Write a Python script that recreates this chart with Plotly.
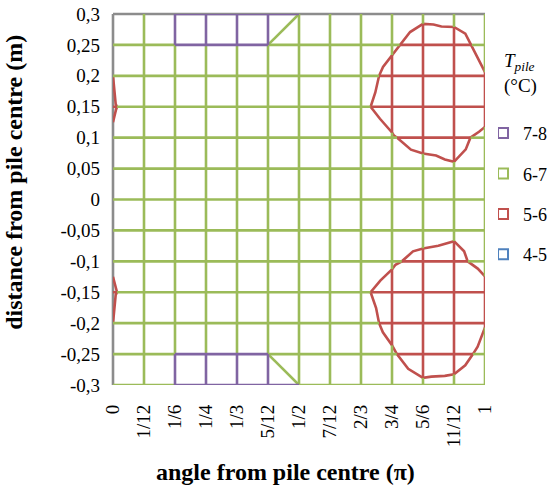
import plotly.graph_objects as go

# Angle categories (fractions of pi) and distance rows of the measurement grid
angle_labels = ["0", "1/12", "1/6", "1/4", "1/3", "5/12", "1/2",
                "7/12", "2/3", "3/4", "5/6", "11/12", "1"]
angle_pi = [0, 1/12, 1/6, 1/4, 1/3, 5/12, 1/2, 7/12, 2/3, 3/4, 5/6, 11/12, 1]
distance_m = [0.3, 0.25, 0.2, 0.15, 0.1, 0.05, 0, -0.05, -0.1, -0.15, -0.2, -0.25, -0.3]
distance_labels = ["0,3", "0,25", "0,2", "0,15", "0,1", "0,05", "0",
                   "-0,05", "-0,1", "-0,15", "-0,2", "-0,25", "-0,3"]

# Pile temperature (deg C); rows follow distance_m, columns follow angle_pi
t_pile = [
    [6.6, 6.8, 7.0, 7.2, 7.3, 7.2, 7.0, 6.7, 6.5, 6.3, 6.14, 6.29, 6.4],
    [6.5, 6.7, 7.0, 7.0, 7.0, 7.0, 6.8, 6.6, 6.4, 6.10, 5.7, 5.6, 6.3],
    [6.0, 6.4, 6.6, 6.7, 6.7, 6.7, 6.6, 6.5, 6.28, 5.8, 5.4, 5.3, 5.96],
    [5.97, 6.2, 6.4, 6.5, 6.5, 6.5, 6.5, 6.4, 6.09, 5.8, 5.3, 5.3, 5.7],
    [6.03, 6.3, 6.4, 6.5, 6.5, 6.5, 6.5, 6.4, 6.3, 6.04, 5.8, 5.82, 6.16],
    [6.2, 6.3, 6.4, 6.5, 6.5, 6.5, 6.5, 6.4, 6.3, 6.2, 6.19, 6.05, 6.2],
    [6.3, 6.3, 6.4, 6.5, 6.5, 6.5, 6.5, 6.4, 6.3, 6.3, 6.3, 6.3, 6.3],
    [6.2, 6.3, 6.4, 6.5, 6.5, 6.5, 6.5, 6.4, 6.3, 6.2, 6.21, 6.08, 6.2],
    [6.03, 6.3, 6.4, 6.5, 6.5, 6.5, 6.5, 6.4, 6.3, 6.07, 5.85, 5.85, 6.19],
    [5.97, 6.2, 6.4, 6.5, 6.5, 6.5, 6.5, 6.4, 6.09, 5.8, 5.3, 5.3, 5.8],
    [6.0, 6.4, 6.6, 6.7, 6.7, 6.7, 6.6, 6.5, 6.28, 5.8, 5.3, 5.3, 5.97],
    [6.5, 6.7, 7.0, 7.0, 7.0, 7.0, 6.8, 6.6, 6.4, 6.08, 5.57, 5.7, 6.19],
    [6.6, 6.8, 7.0, 7.2, 7.3, 7.2, 7.0, 6.7, 6.5, 6.3, 6.13, 6.16, 6.4],
]

band_edges = [4, 5, 6, 7, 8]
band_labels = ["4-5", "5-6", "6-7", "7-8"]
band_colors = ["#4F81BD", "#C0504D", "#9BBB59", "#8064A2"]

SERIF = "Liberation Serif"
LINE_W = 2.6
WALL_COLOR = "#8C8C8C"

n_rows, n_cols = len(distance_m), len(angle_pi)


def band_of(z):
    for j in range(len(band_labels)):
        if z < band_edges[j + 1]:
            return j
    return len(band_labels) - 1


def lerp(p, q, t):
    return (p[0] + (q[0] - p[0]) * t, p[1] + (q[1] - p[1]) * t)


def edge_pieces(p0, p1, z0, z1):
    """Split one mesh edge where it crosses band boundaries."""
    cuts = [0.0, 1.0]
    for lev in band_edges:
        if min(z0, z1) < lev < max(z0, z1):
            cuts.append((lev - z0) / (z1 - z0))
    cuts.sort()
    out = []
    for a, b in zip(cuts[:-1], cuts[1:]):
        band = band_of(z0 + (z1 - z0) * (a + b) / 2)
        out.append((lerp(p0, p1, a), lerp(p0, p1, b), band))
    return out


def node(i, k):
    return (angle_pi[i], distance_m[k])


# ---- wireframe mesh lines, coloured by band ----
grid_paths = {b: [] for b in range(len(band_labels))}
warmest = len(band_labels) - 1


def add_line(nodes, on_wall):
    runs = []
    for (i0, k0), (i1, k1) in zip(nodes[:-1], nodes[1:]):
        for p, q, band in edge_pieces(node(i0, k0), node(i1, k1),
                                      t_pile[k0][i0], t_pile[k1][i1]):
            if on_wall and band != warmest:
                continue
            if runs and runs[-1][0] == band and runs[-1][1][-1] == p:
                runs[-1][1].append(q)
            else:
                runs.append([band, [p, q]])
    for band, pts in runs:
        grid_paths[band].append(pts)


for k in range(n_rows):
    add_line([(i, k) for i in range(n_cols)], on_wall=(k == 0))
for i in range(n_cols):
    add_line([(i, k) for k in range(n_rows)], on_wall=(i == 0))

# ---- contour lines at band boundaries (cells split into four triangles) ----
contour_segs = {b: [] for b in range(len(band_labels))}


def on_mesh_line(p, q):
    eps = 1e-9
    if abs(p[0] - q[0]) < eps and any(abs(p[0] - x) < eps for x in angle_pi):
        return True
    if abs(p[1] - q[1]) < eps and any(abs(p[1] - y) < eps for y in distance_m):
        return True
    return False


for k in range(n_rows - 1):
    for i in range(n_cols - 1):
        corners = [(node(i, k), t_pile[k][i]), (node(i + 1, k), t_pile[k][i + 1]),
                   (node(i + 1, k + 1), t_pile[k + 1][i + 1]), (node(i, k + 1), t_pile[k + 1][i])]
        cx = sum(c[0][0] for c in corners) / 4
        cy = sum(c[0][1] for c in corners) / 4
        cz = sum(c[1] for c in corners) / 4
        centre = ((cx, cy), cz)
        for n in range(4):
            tri = [corners[n], corners[(n + 1) % 4], centre]
            for j in range(1, len(band_edges) - 1):
                lev = band_edges[j]
                above = [v[1] >= lev for v in tri]
                if all(above) or not any(above):
                    continue
                pts = []
                for a in range(3):
                    b = (a + 1) % 3
                    if above[a] != above[b]:
                        (pa, za), (pb, zb) = tri[a], tri[b]
                        pts.append(lerp(pa, pb, (lev - za) / (zb - za)))
                p, q = pts
                if abs(p[0] - q[0]) < 1e-12 and abs(p[1] - q[1]) < 1e-12:
                    continue
                if on_mesh_line(p, q):
                    continue
                contour_segs[j - 1].append((p, q))


def chain(segs):
    key = lambda p: (round(p[0], 9), round(p[1], 9))
    ends = {}
    for n, (p, q) in enumerate(segs):
        ends.setdefault(key(p), []).append(n)
        ends.setdefault(key(q), []).append(n)
    used = [False] * len(segs)
    order = sorted(range(len(segs)),
                   key=lambda n: min(len(ends[key(segs[n][0])]), len(ends[key(segs[n][1])])))
    paths = []
    for n in order:
        if used[n]:
            continue
        used[n] = True
        path = list(segs[n])
        for forward in (True, False):
            while True:
                tip = path[-1] if forward else path[0]
                nxt = next((m for m in ends[key(tip)] if not used[m]), None)
                if nxt is None:
                    break
                used[nxt] = True
                a, b = segs[nxt]
                other = b if key(a) == key(tip) else a
                if forward:
                    path.append(other)
                else:
                    path.insert(0, other)
        paths.append(path)
    return paths


def flatten(paths):
    xs, ys = [], []
    for pts in paths:
        xs += [p[0] for p in pts] + [None]
        ys += [p[1] for p in pts] + [None]
    return xs, ys


fig = go.Figure()

for b in range(len(band_labels)):
    if not contour_segs[b]:
        continue
    xs, ys = flatten(chain(contour_segs[b]))
    fig.add_trace(go.Scatter(x=xs, y=ys, mode="lines", cliponaxis=False,
                             line=dict(color=band_colors[b], width=LINE_W),
                             showlegend=False, hoverinfo="skip"))

for b in (2, 1, 0, 3):
    if not grid_paths[b]:
        continue
    xs, ys = flatten(grid_paths[b])
    fig.add_trace(go.Scatter(x=xs, y=ys, mode="lines", cliponaxis=False,
                             line=dict(color=band_colors[b], width=LINE_W),
                             showlegend=False, hoverinfo="skip"))

# legend entries, warmest band first
for b in reversed(range(len(band_labels))):
    fig.add_trace(go.Scatter(
        x=[None], y=[None], mode="markers", name=band_labels[b],
        legendgroup=band_labels[b],
        marker=dict(symbol="square-open", size=10, color=band_colors[b],
                    line=dict(width=2, color=band_colors[b])),
    ))

fig.update_layout(
    width=547, height=489,
    margin=dict(l=113, r=62, t=14, b=104, autoexpand=False),
    plot_bgcolor="white", paper_bgcolor="white",
    font=dict(family=SERIF, size=19, color="black"),
    xaxis=dict(range=[0, 1], tickmode="array", tickvals=angle_pi, ticktext=angle_labels,
               tickangle=-90, showgrid=False, zeroline=False, showline=False, ticks="",
               ticklabelstandoff=15, tickfont=dict(family=SERIF, size=19)),
    yaxis=dict(range=[-0.3, 0.3], tickmode="array", tickvals=distance_m,
               ticktext=distance_labels, showgrid=False, zeroline=False, showline=False,
               ticks="", ticklabelstandoff=12, tickfont=dict(family=SERIF, size=19)),
    legend=dict(
        x=1.035, y=0.728, xanchor="left", yanchor="top",
        font=dict(family=SERIF, size=18),
        traceorder="grouped", tracegroupgap=14, indentation=-15,
        bgcolor="rgba(0,0,0,0)", itemwidth=30,
    ),
    shapes=[
        dict(type="line", xref="paper", yref="paper", x0=0, x1=0, y0=0, y1=1,
             line=dict(color=WALL_COLOR, width=LINE_W), layer="below"),
        dict(type="line", xref="paper", yref="paper", x0=0, x1=1, y0=1, y1=1,
             line=dict(color=WALL_COLOR, width=LINE_W), layer="below"),
    ],
    annotations=[
        dict(text="<i>T</i><sub><i>pile</i></sub><br>(°C)", xref="paper", yref="paper",
             x=1.0457, y=0.909, xanchor="left", yanchor="top", align="left",
             showarrow=False, font=dict(family=SERIF, size=19)),
        dict(text="<b>distance from pile centre (m)</b>", xref="paper", yref="paper",
             x=-0.266, y=0.545, xanchor="center", yanchor="middle", textangle=-90,
             showarrow=False, font=dict(family=SERIF, size=24)),
        dict(text="<b>angle from pile centre (π)</b>", xref="paper", yref="paper",
             x=0.465, y=-0.235, xanchor="center", yanchor="middle",
             showarrow=False, font=dict(family=SERIF, size=24)),
    ],
)

fig.write_html("out.html")
